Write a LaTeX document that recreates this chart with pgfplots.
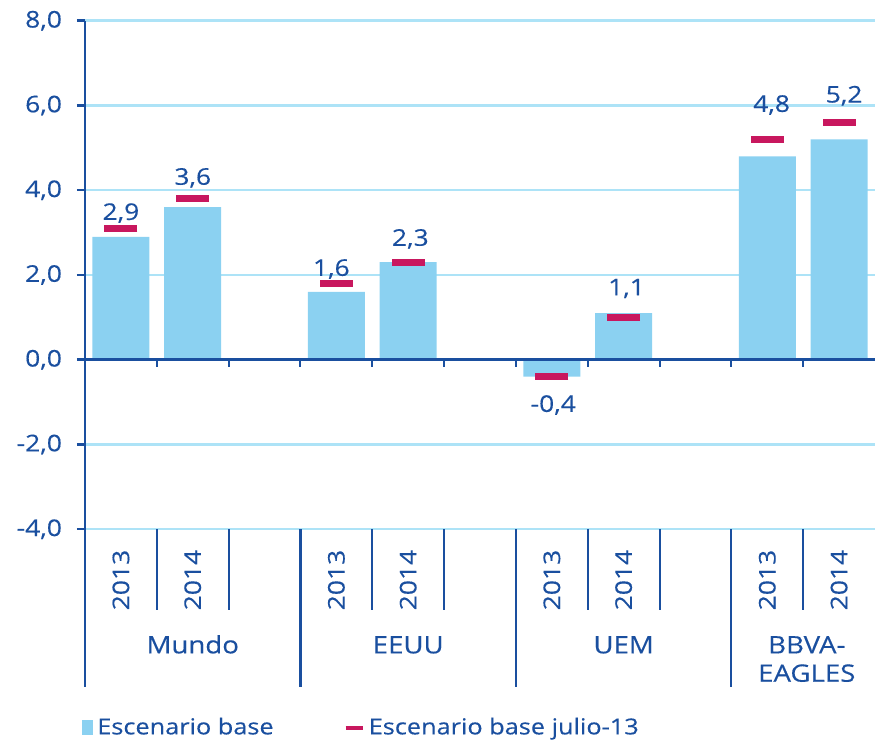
\documentclass[border=0pt]{standalone}
\usepackage{fontspec}
\setmainfont[FakeStretch=1.15, FakeBold=0.3]{Open Sans}
\usepackage{pgfplots}
\pgfplotsset{compat=1.18}
\definecolor{bbvablue}{HTML}{1A4F9F}
\definecolor{barblue}{HTML}{8BD1F1}
\definecolor{gridblue}{HTML}{ADE3F7}
\definecolor{markred}{HTML}{C8175E}
\newcommand{\labfont}{\fontsize{11.5}{13}\selectfont}
\newcommand{\legfont}{\fontsize{11}{13}\selectfont}
\newcommand{\grpfont}{\fontsize{12}{14}\selectfont}
\begin{document}
\begin{tikzpicture}
\begin{axis}[
  scale only axis, width=395pt, height=254.25pt,
  xmin=-0.5, xmax=10.5, ymin=-4, ymax=8,
  axis x line=none, axis y line*=left,
  y axis line style={bbvablue, line width=1.25pt},
  xtick=\empty,
  ytick={-4,-2,0,2,4,6,8},
  tick align=outside, major tick length=4pt,
  ytick style={bbvablue, line width=1.25pt},
  ymajorgrids, grid style={gridblue, line width=1.2pt},
  yticklabel style={font=\labfont, text=bbvablue, xshift=-4pt,
    /pgf/number format/use comma, /pgf/number format/fixed,
    /pgf/number format/fixed zerofill, /pgf/number format/precision=1,
    /pgf/number format/assume math mode=true},
  clip=false,
  legend columns=2,
  legend style={draw=none, fill=none, font=\legfont, text=bbvablue,
    at={(rel axis cs:-0.0115,-0.39)}, anchor=west,
    /tikz/every even column/.append style={column sep=33pt}},
  legend cell align=left,
]
\addplot[ybar, bar width=28.5pt, fill=barblue, draw=none,
  legend image code/.code={\fill[barblue] (0pt,-3.75pt) rectangle (5.5pt,3.75pt);}]
  coordinates {(0,2.9) (1,3.6) (3,1.6) (4,2.3) (6,-0.4) (7,1.1) (9,4.8) (10,5.2)};
\addlegendentry{Escenario base}
\addplot[only marks, mark=-, mark size=8.25pt, color=markred, mark options={line width=3.5pt},
  legend image code/.code={\draw[markred, line width=2pt] (0pt,0pt) -- (8.5pt,0pt);}]
  coordinates {(0,3.1) (1,3.8) (3,1.8) (4,2.3) (6,-0.4) (7,1.0) (9,5.2) (10,5.6)};
\addlegendentry{Escenario base julio-13}

% zero axis line and boundary ticks
\draw[bbvablue, line width=1.3pt] (axis cs:-0.5,0) -- (axis cs:10.5,0);
\pgfplotsinvokeforeach{0.5,1.5,2.5,3.5,4.5,5.5,6.5,7.5,8.5,9.5}{
  \draw[bbvablue, line width=1pt] (axis cs:#1,0) -- ++(0pt,-3.5pt);
}
% category table
\pgfplotsinvokeforeach{0.5,1.5,3.5,4.5,6.5,7.5,9.5}{
  \draw[bbvablue, line width=1pt] (axis cs:#1,-4) -- (axis cs:#1,-5.91);
}
\pgfplotsinvokeforeach{-0.5,2.5,5.5,8.5}{
  \draw[bbvablue, line width=1.1pt] (axis cs:#1,-4) -- (axis cs:#1,-7.72);
}
\pgfplotsinvokeforeach{0,3,6,9}{
  \node[rotate=90, font=\labfont, text=bbvablue] at (axis cs:#1,-5.2) {2013};
}
\pgfplotsinvokeforeach{1,4,7,10}{
  \node[rotate=90, font=\labfont, text=bbvablue] at (axis cs:#1,-5.2) {2014};
}
\node[anchor=base, font=\grpfont, text=bbvablue] at (axis cs:1,-6.93) {Mundo};
\node[anchor=base, font=\grpfont, text=bbvablue] at (axis cs:4,-6.93) {EEUU};
\node[anchor=base, font=\grpfont, text=bbvablue] at (axis cs:7,-6.93) {UEM};
\node[anchor=base, font=\grpfont, text=bbvablue] at (axis cs:9.55,-6.93) {BBVA-};
\node[anchor=base, font=\grpfont, text=bbvablue] at (axis cs:9.55,-7.60) {EAGLES};

% data labels
\node[font=\labfont, text=bbvablue] at (axis cs:0,3.46) {2,9};
\node[font=\labfont, text=bbvablue] at (axis cs:1,4.29) {3,6};
\node[font=\labfont, text=bbvablue] at (axis cs:2.93,2.14) {1,6};
\node[font=\labfont, text=bbvablue] at (axis cs:4.03,2.85) {2,3};
\node[font=\labfont, text=bbvablue] at (axis cs:6.02,-1.07) {-0,4};
\node[font=\labfont, text=bbvablue] at (axis cs:7.04,1.68) {1,1};
\node[font=\labfont, text=bbvablue] at (axis cs:9.06,6.01) {4,8};
\node[font=\labfont, text=bbvablue] at (axis cs:10.07,6.23) {5,2};

\coordinate (SW) at (rel axis cs:0,0);
\coordinate (NE) at (rel axis cs:1,1);
\end{axis}
\pgfresetboundingbox
\path[use as bounding box] ([shift={(-42.5pt,-105.5pt)}]SW) rectangle ([shift={(0.5pt,10.35pt)}]NE);
\end{tikzpicture}
\end{document}
